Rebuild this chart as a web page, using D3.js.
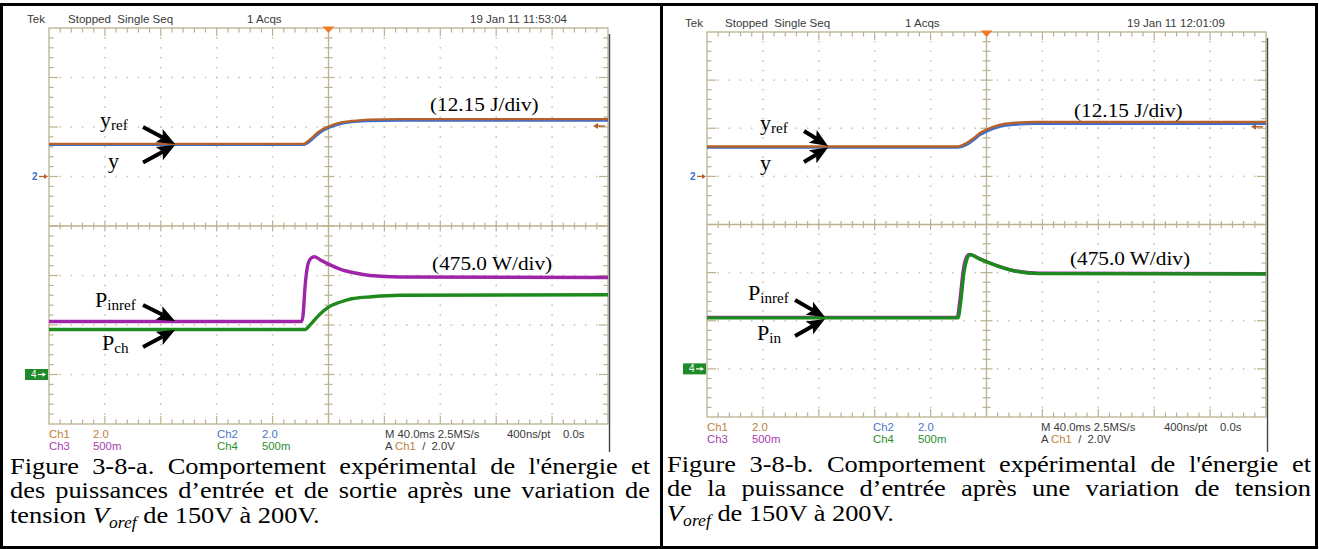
<!DOCTYPE html>
<html><head><meta charset="utf-8">
<script src="https://cdn.jsdelivr.net/npm/d3@7"></script>
<style>body{margin:0;background:#fff}svg{display:block}</style>
</head><body>
<svg id="c" width="1319" height="549"></svg>
<script>
// ---------------- DATA (time in ms, 40 ms/div; amplitude in divisions) ----------------
// Figure 3-8-a
const timeA_E   = [-200,-18.2,-12.8,-7.3,0,7,16.6,28.3,51,200];
const yrefA     = [1.66,1.66,1.76,1.90,2.01,2.08,2.12,2.15,2.16,2.16];
const yA        = [1.64,1.64,1.72,1.86,1.98,2.05,2.10,2.12,2.13,2.13];
const timeA_Pin = [-200,-19.3,-18.2,-16.8,-14.5,-12.5,-10.2,-6.1,0,8.2,19,29.7,51,200];
const pinrefA   = [-1.93,-1.93,-1.80,-1.23,-0.75,-0.65,-0.62,-0.68,-0.77,-0.87,-0.95,-1.00,-1.03,-1.04];
const timeA_Pch = [-200,-16.8,-13.2,-7.5,0,8.2,16.6,30.9,51,200];
const pchA      = [-2.09,-2.09,-2.00,-1.82,-1.64,-1.54,-1.47,-1.43,-1.40,-1.39];
// Figure 3-8-b
const timeB_E      = [-200,-20.4,-14,-8,-4.7,0,8,19,35,200];
const yrefB        = [1.62,1.62,1.70,1.82,1.90,1.97,2.06,2.11,2.13,2.13];
const yB           = [1.60,1.60,1.66,1.78,1.86,1.93,2.02,2.07,2.09,2.09];
const timeB_Pinref = [-200,-21,-18.9,-16.7,-14.6,-12.3,-5,9,18,37,200];
const pinrefB      = [-1.93,-1.93,-1.55,-0.97,-0.70,-0.62,-0.71,-0.87,-0.95,-1.01,-1.02];
const timeB_Pin    = [-200,-20.4,-18.3,-16.1,-14,-11.8,-4.7,9.7,19,38,200];
const pinB         = [-1.94,-1.94,-1.57,-0.99,-0.72,-0.63,-0.72,-0.88,-0.96,-1.02,-1.03];
// Graticule
const timeDomain = [-200,200];
const divDomain  = [-4,4];
const timeMajor  = d3.range(-200,201,40);
const timeMinor  = d3.range(-200,201,8);
const divMajor   = d3.range(-4,4.001,1);
const divMinor   = d3.range(-20,21,1).map(d=>d/5);
// Texts
const headerA = ["Tek","Stopped  Single Seq","1 Acqs","19 Jan 11 11:53:04"];
const headerB = ["Tek","Stopped  Single Seq","1 Acqs","19 Jan 11 12:01:09"];
const scaleJ = "(12.15 J/div)";
const scaleW = "(475.0 W/div)";
const captionA = [
  "Figure 3-8-a. Comportement expérimental de l'énergie et",
  "des puissances d’entrée et de sortie après une variation de"];
const captionB = [
  "Figure 3-8-b. Comportement expérimental de l'énergie et",
  "de la puissance d’entrée après une variation de tension"];

// ---------------- STYLE ----------------
const C = {ch1:'#b5622a', ch2:'#3a6fd0', ch3:'#a024a8', ch4:'#1e8a1e',
  ch1t:'#c0803a', ch2t:'#4a76c4', ch3t:'#a83cb0', ch4t:'#2d8d2d',
  grid:'#bab291', dot:'#cdc6aa', txt:'#3a3a3a', trig:'#f07a28'};
const svg = d3.select('#c');
const sans = '"Liberation Sans", Arial, sans-serif';
const serif = '"Liberation Serif", "Times New Roman", Times, serif';

// borders
svg.append('rect').attr('x',1.5).attr('y',4.5).attr('width',1315).attr('height',543)
  .attr('fill','none').attr('stroke','#000').attr('stroke-width',3);
svg.append('line').attr('x1',661.5).attr('x2',661.5).attr('y1',3).attr('y2',549)
  .attr('stroke','#000').attr('stroke-width',3);

function scopeText(g,x,y,str,color,sx){
  return g.append('text').attr('transform',`translate(${x},${y}) scale(${sx||1.1},1)`)
    .attr('font-family',sans).attr('font-size',10.5).attr('fill',color||C.txt)
    .style('white-space','pre').text(str);
}
function arrow(g,x1,y1,x2,y2){
  const dx=x2-x1, dy=y2-y1, L=Math.hypot(dx,dy), ux=dx/L, uy=dy/L;
  const hl=18, hw=7.5;
  const bx=x2-ux*hl, by=y2-uy*hl;
  g.append('line').attr('x1',x1).attr('y1',y1).attr('x2',bx+ux*4).attr('y2',by+uy*4)
    .attr('stroke','#000').attr('stroke-width',4);
  g.append('path').attr('d',`M${x2},${y2}L${bx-uy*hw},${by+ux*hw}L${bx+ux*4},${by+uy*4}L${bx+uy*hw},${by-ux*hw}Z`)
    .attr('fill','#000');
}
function subLabel(g,x,y,main,sub){
  const t=g.append('text').attr('transform',`translate(${x},${y}) scale(1.08,1)`)
    .attr('font-family',serif).attr('fill','#000');
  t.append('tspan').attr('font-size',20.5).text(main);
  if(sub) t.append('tspan').attr('font-size',14).attr('dy',3).text(sub);
}
function scaleLabel(g,x,y,str){
  g.append('text').attr('transform',`translate(${x},${y}) scale(1.12,1)`)
    .attr('font-family',serif).attr('font-size',19).attr('fill','#000').text(str);
}

const panels = [
 {x0:49,x1:608,yTop:28,yBot:424, header:headerA, hdx:[-22,19,198,421],
  energy:[{t:timeA_E,v:yA,c:C.ch2,w:2.4},{t:timeA_E,v:yrefA,c:C.ch1,w:2.4}],
  power:[{t:timeA_Pin,v:pinrefA,c:C.ch3,w:3.4},{t:timeA_Pch,v:pchA,c:C.ch4,w:3.4}],
  ro:{r2:44,c2:168,v2:213,m:336,ns:458,s0:514},
  ann:{yref:[-163.5,2.01],y:[-157.8,1.17],
       a1:[-132.7,2.00,-109.8,1.657],a2:[-132.7,1.283,-109.8,1.636],
       J:[72.6,2.32],W:[74.1,-0.89],
       p1:[-167.1,-1.646,'P','inref'],p2:[-162.1,-2.505,'P','ch'],
       a3:[-132.7,-1.596,-109.8,-1.919],a4:[-132.7,-2.444,-109.8,-2.101]},
  trigLevel:2.02},
 {x0:707,x1:1266,yTop:32,yBot:417, header:headerB, hdx:[-22,18,198,420],
  energy:[{t:timeB_E,v:yB,c:C.ch2,w:2.4},{t:timeB_E,v:yrefB,c:C.ch1,w:2.4}],
  power:[{t:timeB_Pinref,v:pinrefB,c:C.ch3,w:3.4},{t:timeB_Pin,v:pinB,c:C.ch4,w:3.4}],
  ro:{r2:45,c2:166,v2:211,m:334,ns:457,s0:513},
  ann:{yref:[-162.1,1.965],y:[-162.1,1.133],
       a1:[-130.6,1.944,-113.4,1.632],a2:[-130.6,1.299,-113.4,1.601],
       J:[62.6,2.235],W:[59.7,-0.842],
       p1:[-170.7,-1.570,'P','inref'],p2:[-164.2,-2.391,'P','in'],
       a3:[-137.0,-1.570,-115.6,-1.923],a4:[-137.0,-2.318,-115.6,-1.965]},
  trigLevel:2.03}
];

const isInt = v => Math.abs(v-Math.round(v))<1e-6;

panels.forEach(p=>{
  const x=d3.scaleLinear().domain(timeDomain).range([p.x0,p.x1]);
  const y=d3.scaleLinear().domain(divDomain).range([p.yBot,p.yTop]);
  const g=svg.append('g');
  // dotted graticule
  const dots=[];
  timeMajor.filter(t=>Math.abs(t)!==200&&t!==0).forEach(t=>divMinor.forEach(v=>{if(Math.abs(v)<4)dots.push([t,v]);}));
  divMajor.filter(v=>Math.abs(v)!==4&&v!==0).forEach(v=>timeMinor.forEach(t=>{if(Math.abs(t)<200)dots.push([t,v]);}));
  g.selectAll('rect.dot').data(dots).join('rect').attr('class','dot')
    .attr('x',d=>x(d[0])-0.8).attr('y',d=>y(d[1])-0.8).attr('width',1.6).attr('height',1.6).attr('fill',C.dot);
  // frame & centre lines
  g.append('rect').attr('x',p.x0).attr('y',p.yTop).attr('width',p.x1-p.x0).attr('height',p.yBot-p.yTop)
    .attr('fill','none').attr('stroke',C.grid).attr('stroke-width',1.3);
  g.append('line').attr('x1',x(0)).attr('x2',x(0)).attr('y1',p.yTop).attr('y2',p.yBot).attr('stroke',C.grid).attr('stroke-width',1.3);
  g.append('line').attr('x1',p.x0).attr('x2',p.x1).attr('y1',y(0)).attr('y2',y(0)).attr('stroke',C.grid).attr('stroke-width',1.3);
  const tk=g.append('g').attr('stroke',C.grid).attr('stroke-width',1.2);
  timeMinor.filter(t=>Math.abs(t)<200).forEach(t=>{
    const maj=t%40===0, L=maj?8:4.5, c=maj?5.5:3.5, X=x(t);
    tk.append('line').attr('x1',X).attr('x2',X).attr('y1',p.yTop).attr('y2',p.yTop+L);
    tk.append('line').attr('x1',X).attr('x2',X).attr('y1',p.yBot-L).attr('y2',p.yBot);
    tk.append('line').attr('x1',X).attr('x2',X).attr('y1',y(0)-c).attr('y2',y(0)+c);
  });
  divMinor.filter(v=>Math.abs(v)<4).forEach(v=>{
    const maj=isInt(v), L=maj?9:4.5, c=maj?6:4, Y=y(v);
    tk.append('line').attr('x1',p.x0).attr('x2',p.x0+L).attr('y1',Y).attr('y2',Y);
    tk.append('line').attr('x1',p.x1-L).attr('x2',p.x1).attr('y1',Y).attr('y2',Y);
    tk.append('line').attr('x1',x(0)-c).attr('x2',x(0)+c).attr('y1',Y).attr('y2',Y);
  });
  // dark image edge on right
  g.append('line').attr('x1',p.x1+1.5).attr('x2',p.x1+1.5).attr('y1',p.yTop+6).attr('y2',452)
    .attr('stroke','#444').attr('stroke-width',1.4);
  // trigger marker
  g.append('path').attr('d',`M${x(0)-6},${p.yTop-1.5}L${x(0)+6},${p.yTop-1.5}L${x(0)},${p.yTop+5}Z`).attr('fill',C.trig);
  // trigger level arrow (right)
  const tl=y(p.trigLevel);
  g.append('line').attr('x1',p.x1-3).attr('x2',p.x1-13).attr('y1',tl).attr('y2',tl).attr('stroke',C.ch1).attr('stroke-width',1.5);
  g.append('path').attr('d',`M${p.x1-15},${tl}L${p.x1-10},${tl-3}L${p.x1-10},${tl+3}Z`).attr('fill',C.ch1);
  // channel markers
  scopeText(g,p.x0-17,y(1)+3.5,'2',C.ch2,1).attr('font-weight','bold').attr('font-size',10);
  g.append('line').attr('x1',p.x0-10).attr('x2',p.x0-3).attr('y1',y(1)).attr('y2',y(1)).attr('stroke',C.ch1).attr('stroke-width',1.3);
  g.append('path').attr('d',`M${p.x0-1},${y(1)}L${p.x0-5},${y(1)-2.5}L${p.x0-5},${y(1)+2.5}Z`).attr('fill',C.ch1);
  g.append('rect').attr('x',p.x0-24).attr('y',y(-3)-5.5).attr('width',23).attr('height',11).attr('fill','#1f8a2a');
  scopeText(g,p.x0-18,y(-3)+3.5,'4','#fff',1).attr('font-size',10);
  g.append('line').attr('x1',p.x0-11).attr('x2',p.x0-5).attr('y1',y(-3)).attr('y2',y(-3)).attr('stroke','#fff').attr('stroke-width',1.2);
  g.append('path').attr('d',`M${p.x0-3},${y(-3)}L${p.x0-6.5},${y(-3)-2.2}L${p.x0-6.5},${y(-3)+2.2}Z`).attr('fill','#fff');
  // traces
  const line=d3.line().x(d=>x(d[0])).y(d=>y(d[1])).curve(d3.curveMonotoneX);
  p.power.concat(p.energy).forEach(s=>{
    g.append('path').attr('d',line(s.t.map((t,i)=>[t,s.v[i]]))).attr('fill','none')
      .attr('stroke',s.c).attr('stroke-width',s.w).attr('stroke-linejoin','round');
  });
  // header
  p.header.forEach((h,i)=>scopeText(g,p.x0+p.hdx[i],p.yTop-5,h,C.txt));
  // readouts
  const r1=p.yBot+13.5, r2=p.yBot+25.5, ro=p.ro;
  scopeText(g,p.x0,r1,'Ch1',C.ch1t,1.08); scopeText(g,p.x0+ro.r2,r1,'2.0',C.ch1t,1.08);
  scopeText(g,p.x0+ro.c2,r1,'Ch2',C.ch2t,1.08); scopeText(g,p.x0+ro.v2,r1,'2.0',C.ch2t,1.08);
  scopeText(g,p.x0+ro.m,r1,'M 40.0ms 2.5MS/s',C.txt,1.08);
  scopeText(g,p.x0+ro.ns,r1,'400ns/pt',C.txt,1.08);
  scopeText(g,p.x0+ro.s0,r1,'0.0s',C.txt,1.08);
  scopeText(g,p.x0,r2,'Ch3',C.ch3t,1.08); scopeText(g,p.x0+ro.r2,r2,'500m',C.ch3t,1.08);
  scopeText(g,p.x0+ro.c2,r2,'Ch4',C.ch4t,1.08); scopeText(g,p.x0+ro.v2,r2,'500m',C.ch4t,1.08);
  const at=scopeText(g,p.x0+ro.m,r2,'A ',C.txt,1.08);
  at.append('tspan').attr('fill',C.ch1t).text('Ch1');
  at.append('tspan').text('  /  2.0V');
  // annotations
  const a=p.ann;
  subLabel(g,x(a.yref[0]),y(a.yref[1]),'y','ref');
  subLabel(g,x(a.y[0]),y(a.y[1]),'y',null);
  ['a1','a2','a3','a4'].forEach(k=>arrow(g,x(a[k][0]),y(a[k][1]),x(a[k][2]),y(a[k][3])));
  scaleLabel(g,x(a.J[0]),y(a.J[1]),scaleJ);
  scaleLabel(g,x(a.W[0]),y(a.W[1]),scaleW);
  subLabel(g,x(a.p1[0]),y(a.p1[1]),a.p1[2],a.p1[3]);
  subLabel(g,x(a.p2[0]),y(a.p2[1]),a.p2[2],a.p2[3]);
});

// ---------------- captions ----------------
const capFS=24, capSX=1.1;
function justify(words,x0,x1,yb){
  const g=svg.append('g').attr('transform',`translate(${x0},0) scale(${capSX},1)`)
    .attr('font-family',serif).attr('font-size',capFS);
  const els=words.map(w=>g.append('text').attr('y',yb).text(w));
  const ws=els.map(e=>e.node().getComputedTextLength());
  const gap=Math.max(3,((x1-x0)/capSX-d3.sum(ws))/(words.length-1));
  let cx=0;
  els.forEach((e,i)=>{e.attr('x',cx);cx+=ws[i]+gap;});
}
function lastLine(x,yb,pre){
  const t=svg.append('text').attr('transform',`translate(${x},${yb}) scale(${capSX},1)`)
    .attr('font-family',serif).attr('font-size',capFS).style('white-space','pre');
  if(pre) t.append('tspan').text(pre);
  t.append('tspan').attr('font-style','italic').text('V');
  t.append('tspan').attr('font-style','italic').attr('font-size',16).attr('dy',5).text('oref');
  t.append('tspan').attr('dy',-5).text(' de 150V à 200V.');
}
captionA.forEach((l,i)=>justify(l.split(' '),10,650,474+i*24.5));
lastLine(10,523,'tension ');
captionB.forEach((l,i)=>justify(l.split(' '),667,1311,472+i*24.5));
lastLine(667,521,null);
</script>
</body></html>
